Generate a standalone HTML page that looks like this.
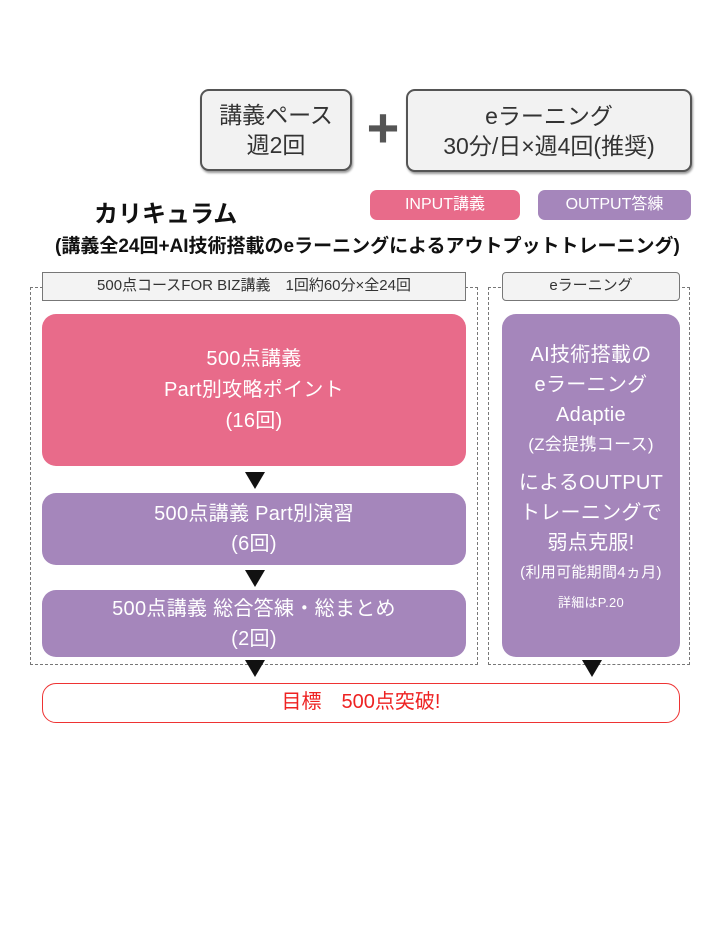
<!DOCTYPE html>
<html><head><meta charset="utf-8"><style>
body{margin:0;width:720px;height:934px;background:#fff;position:relative;font-family:"Liberation Sans","Noto Sans CJK JP",sans-serif;overflow:hidden}
.a{position:absolute;box-sizing:border-box;text-align:center}
.top{border:2px solid #555;border-radius:9px;background:#f2f2f2;color:#333;font-size:23px;line-height:30px;display:flex;flex-direction:column;justify-content:center;box-shadow:1px 2px 2px #999}
.tag{border-radius:7px;color:#fff;font-size:16px;line-height:30px}
.hdr{border:1.5px solid #777;background:#f3f3f3;color:#333;font-size:15px;line-height:26px}
.dash{border:1.5px dashed #777}
.box{border-radius:14px;color:#fff;display:flex;flex-direction:column;justify-content:center;letter-spacing:0.3px}
.pink{background:#e86b8a}.pur{background:#a586bb}
.tri{position:absolute;width:0;height:0;border-left:10px solid transparent;border-right:10px solid transparent;border-top:17px solid #111}
</style></head><body>
<div class="a top" style="left:200px;top:89px;width:152px;height:82px">講義ペース<br>週2回</div>
<div class="a" style="left:362px;top:98px;width:42px;font-size:56px;font-weight:bold;color:#555;line-height:60px">+</div>
<div class="a top" style="left:406px;top:89px;width:286px;height:83px">eラーニング<br>30分/日×週4回(推奨)</div>
<div class="a" style="left:94px;top:194px;font-size:24px;font-weight:bold;color:#111;text-align:left">カリキュラム</div>
<div class="a tag pink" style="left:370px;top:190px;width:150px;height:30px">INPUT講義</div>
<div class="a tag pur" style="left:538px;top:190px;width:153px;height:30px">OUTPUT答練</div>
<div class="a" style="left:55px;top:231px;width:650px;font-size:19px;font-weight:bold;color:#111;text-align:left;white-space:nowrap">(講義全24回+AI技術搭載のeラーニングによるアウトプットトレーニング)</div>
<div class="a dash" style="left:30px;top:287px;width:448px;height:378px"></div>
<div class="a dash" style="left:488px;top:287px;width:202px;height:378px"></div>
<div class="a hdr" style="left:42px;top:272px;width:424px;height:29px">500点コースFOR BIZ講義　1回約60分×全24回</div>
<div class="a hdr" style="left:502px;top:272px;width:178px;height:29px;border-radius:4px">eラーニング</div>
<div class="a box pink" style="left:42px;top:314px;width:424px;height:152px;font-size:20px;line-height:31px">500点講義<br>Part別攻略ポイント<br>(16回)</div>
<div class="tri" style="left:245px;top:472px"></div>
<div class="a box pur" style="left:42px;top:493px;width:424px;height:72px;font-size:20px;line-height:30px">500点講義 Part別演習<br>(6回)</div>
<div class="tri" style="left:245px;top:570px"></div>
<div class="a box pur" style="left:42px;top:590px;width:424px;height:67px;font-size:20px;line-height:30px">500点講義 総合答練・総まとめ<br>(2回)</div>
<div class="tri" style="left:245px;top:660px"></div>
<div class="a box pur" style="left:502px;top:314px;width:178px;height:343px;font-size:20px;line-height:30px;justify-content:flex-start;padding-top:26px">AI技術搭載の<br>eラーニング<br>Adaptie<br><span style="font-size:17px">(Z会提携コース)</span><span style="display:block;height:8px"></span>によるOUTPUT<br>トレーニングで<br>弱点克服!<br><span style="font-size:15px">(利用可能期間4ヵ月)</span><span style="font-size:13px">詳細はP.20</span></div>
<div class="tri" style="left:582px;top:660px"></div>
<div class="a" style="left:42px;top:683px;width:638px;height:40px;border:1.5px solid #e33;border-radius:14px;color:#e22;font-size:20px;line-height:37px">目標　500点突破!</div>
</body></html>
